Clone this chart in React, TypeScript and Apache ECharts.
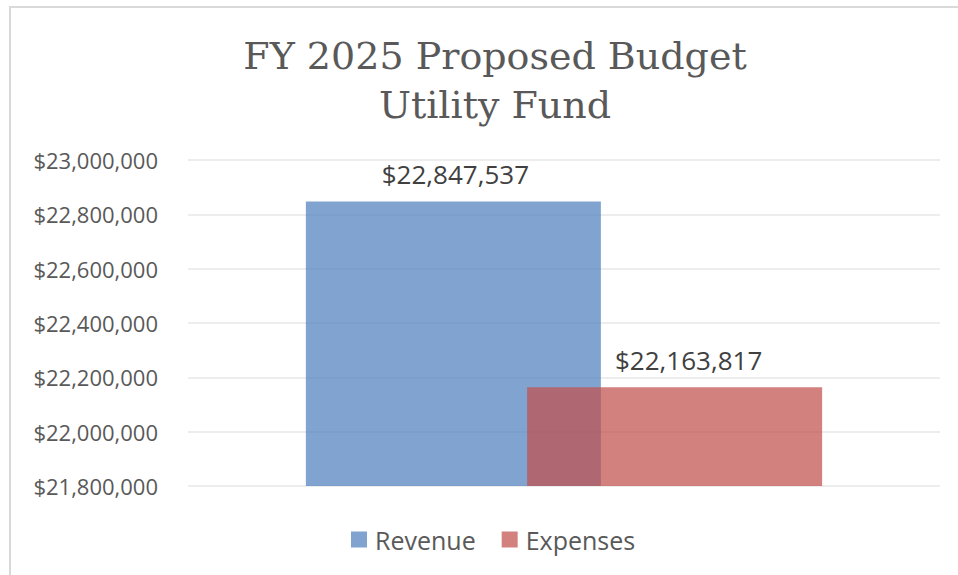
import React, { useEffect, useRef } from "react";
import * as echarts from "echarts";

const categories = ["FY 2025"];
const seriesNames = ["Revenue", "Expenses"];
const revenueValues = [22847537];
const expensesValues = [22163817];
const yMin = 21800000;
const yMax = 23000000;
const yInterval = 200000;
const titleLines = ["FY 2025 Proposed Budget", "Utility Fund"];

const fmtMoney = (v: number) => "$" + Math.round(v).toLocaleString("en-US");

export default function App() {
  const ref = useRef<HTMLDivElement>(null);
  useEffect(() => {
    if (!ref.current) return;
    const chart = echarts.init(ref.current, undefined, { renderer: "svg" });
    const sans = "'Open Sans', 'Noto Sans', sans-serif";
    chart.setOption({
      animation: false,
      backgroundColor: "#ffffff",
      title: {
        text: titleLines.join("\n"),
        left: 490,
        top: 26,
        textAlign: "center",
        textStyle: {
          fontFamily: "'DejaVu Serif', serif",
          fontWeight: "normal",
          fontSize: 38,
          lineHeight: 49,
          color: "#595959",
        },
      },
      legend: {
        left: 351,
        top: 527,
        padding: 0,
        itemWidth: 16,
        itemHeight: 16,
        itemGap: 26,
        icon: "rect",
        data: seriesNames,
        textStyle: { fontFamily: sans, fontSize: 25, color: "#595959", padding: [0, 0, 0, 3] },
      },
      grid: { left: 188, right: 18, top: 160, bottom: 89, containLabel: false },
      xAxis: {
        type: "category",
        data: categories,
        axisLine: { show: false },
        axisTick: { show: false },
        axisLabel: { show: false },
      },
      yAxis: {
        type: "value",
        min: yMin,
        max: yMax,
        interval: yInterval,
        axisLine: { show: false },
        axisTick: { show: false },
        axisLabel: {
          formatter: (v: number) => fmtMoney(v),
          fontFamily: sans,
          fontSize: 22,
          color: "#595959",
          margin: 30,
        },
        splitLine: { lineStyle: { color: "#EDEDED", width: 2 } },
      },
      series: [
        {
          name: seriesNames[0],
          type: "bar",
          data: revenueValues,
          barWidth: 295,
          barGap: "-25%",
          itemStyle: { color: "rgba(79,129,189,0.72)" },
          label: {
            show: true,
            position: "top",
            distance: 14,
            offset: [2, 0],
            formatter: (p: any) => fmtMoney(p.value),
            fontFamily: sans,
            fontSize: 26,
            color: "#404040",
          },
        },
        {
          name: seriesNames[1],
          type: "bar",
          data: expensesValues,
          barWidth: 295,
          barGap: "-25%",
          itemStyle: { color: "rgba(192,80,77,0.72)" },
          label: {
            show: true,
            position: "top",
            distance: 14,
            offset: [14, 0],
            formatter: (p: any) => fmtMoney(p.value),
            fontFamily: sans,
            fontSize: 26,
            color: "#404040",
          },
        },
      ],
      graphic: [
        {
          type: "polyline",
          shape: { points: [[10, 575], [10, 7], [958, 7]] },
          style: { stroke: "#D9D9D9", lineWidth: 2, fill: "none" },
          silent: true,
        },
      ],
    });
    return () => chart.dispose();
  }, []);
  return (
    <div
      ref={ref}
      style={{ position: "fixed", left: 0, top: 0, width: 958, height: 575 }}
    />
  );
}
